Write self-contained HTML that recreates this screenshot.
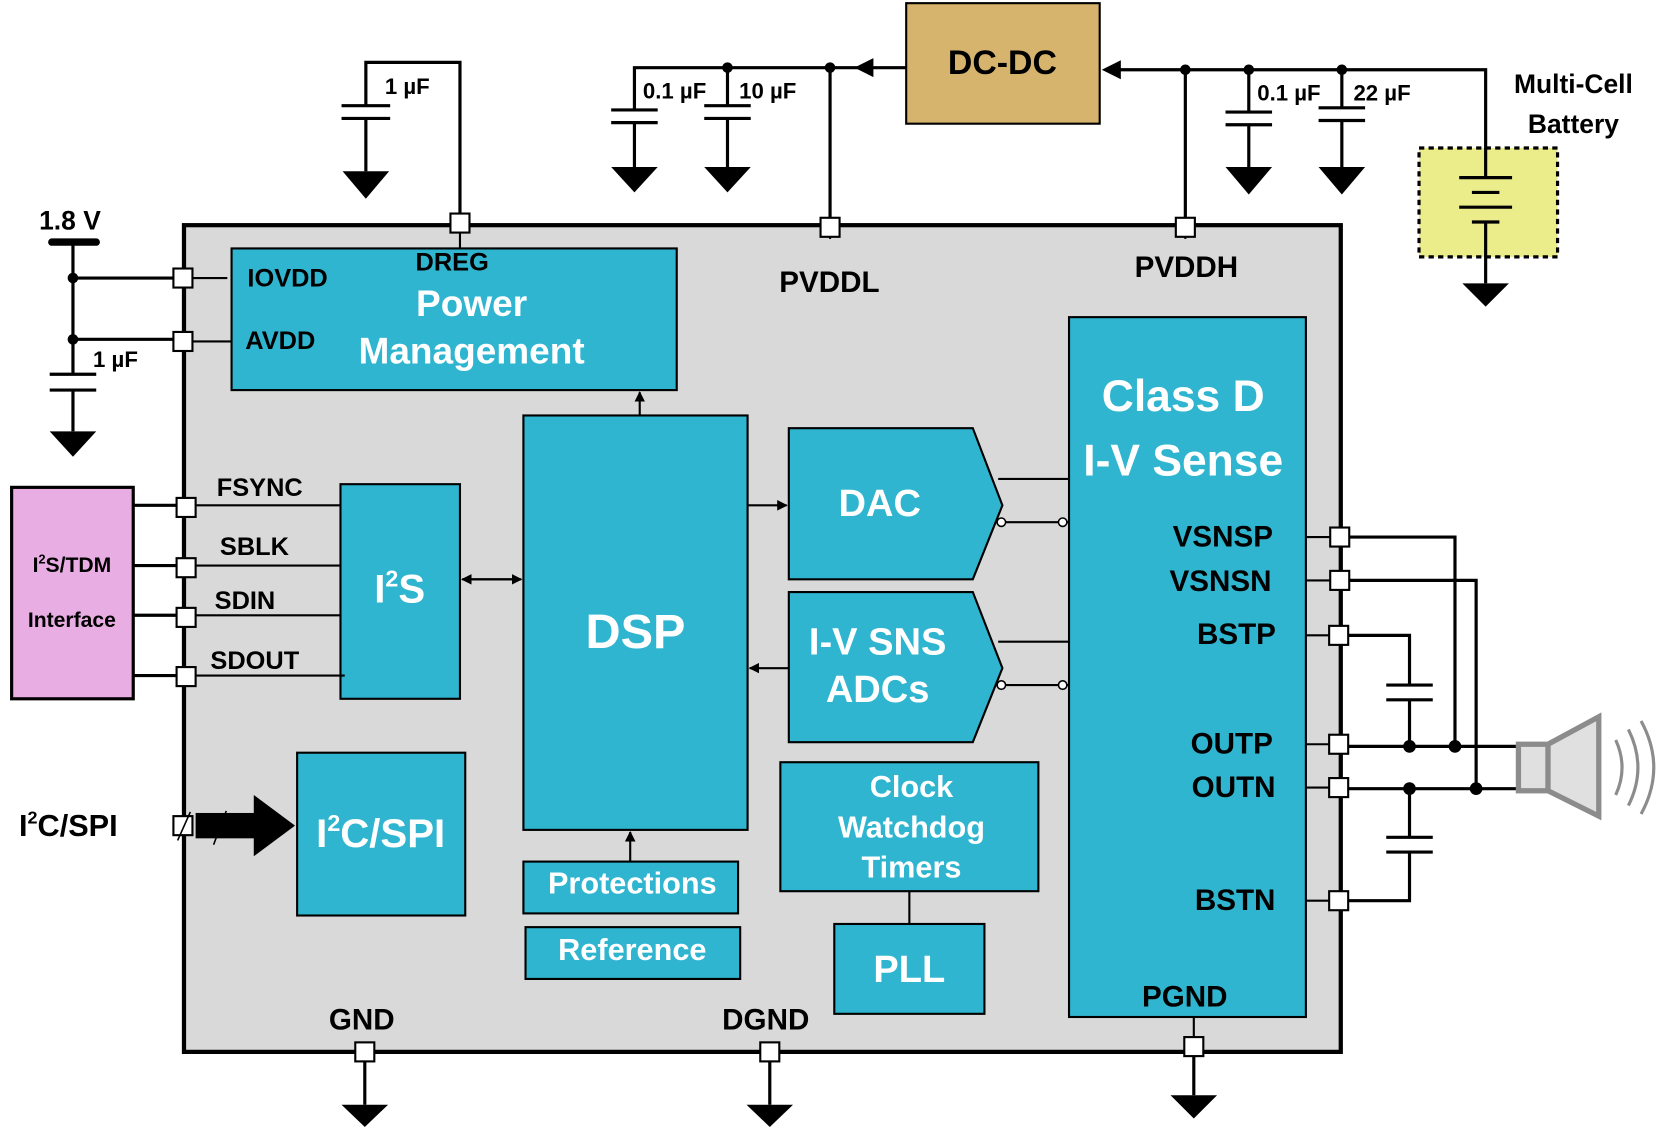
<!DOCTYPE html>
<html><head><meta charset="utf-8"><style>
html,body{margin:0;padding:0;background:#fff;}
svg{display:block;}
text{font-family:"Liberation Sans",Arial,sans-serif;font-weight:bold;}
</style></head><body>
<svg width="1658" height="1128" viewBox="0 0 1568 1067" preserveAspectRatio="none" xmlns="http://www.w3.org/2000/svg">
<defs>
<marker id="ar" markerWidth="10" markerHeight="10" refX="9" refY="5" orient="auto" markerUnits="userSpaceOnUse"><path d="M0,0 L10,5 L0,10 z" fill="#000"/></marker>
</defs>
<rect x="174" y="213" width="1094" height="782" fill="#d9d9d9" stroke="#000" stroke-width="4"/>
<g fill="#2fb5cf" stroke="#000" stroke-width="2">
<rect x="219" y="235" width="421" height="134"/>
<rect x="495" y="393" width="212" height="392"/>
<polygon points="746,405 920,405 948,478 920,548 746,548"/>
<polygon points="746,560 920,560 948,632 920,702 746,702"/>
<rect x="1011" y="300" width="224" height="662"/>
<rect x="322" y="458" width="113" height="203"/>
<rect x="281" y="712" width="159" height="154"/>
<rect x="495" y="815" width="203" height="49"/>
<rect x="497" y="877" width="203" height="49"/>
<rect x="738" y="721" width="244" height="122"/>
<rect x="789" y="874" width="142" height="85"/>
</g>
<rect x="857" y="3" width="183" height="114" fill="#d6b46e" stroke="#000" stroke-width="2"/>
<rect x="11" y="461" width="115" height="200" fill="#e8aee3" stroke="#000" stroke-width="3"/>
<rect x="1342" y="140" width="131" height="103" fill="#eaed8a" stroke="#000" stroke-width="3" stroke-dasharray="5,4"/>

<g stroke="#000" stroke-width="3" fill="none">
<polyline points="435,211 435,59 346,59 346,100"/>
<line x1="346" y1="112" x2="346" y2="162"/>
<line x1="323" y1="100" x2="369" y2="100"/><line x1="323" y1="112" x2="369" y2="112"/>
<polyline points="785,215 785,64 600,64 600,104"/>
<line x1="600" y1="116" x2="600" y2="158"/>
<line x1="578" y1="104" x2="622" y2="104"/><line x1="578" y1="116" x2="622" y2="116"/>
<line x1="688" y1="64" x2="688" y2="100"/><line x1="688" y1="112" x2="688" y2="158"/>
<line x1="666" y1="100" x2="710" y2="100"/><line x1="666" y1="112" x2="710" y2="112"/>
<line x1="785" y1="64" x2="857" y2="64"/>
<polyline points="1121,215 1121,66 1055,66"/>
<polyline points="1121,66 1405,66 1405,140"/>
<line x1="1181" y1="66" x2="1181" y2="106"/><line x1="1181" y1="118" x2="1181" y2="158"/>
<line x1="1159" y1="106" x2="1203" y2="106"/><line x1="1159" y1="118" x2="1203" y2="118"/>
<line x1="1269" y1="66" x2="1269" y2="102"/><line x1="1269" y1="114" x2="1269" y2="158"/>
<line x1="1247" y1="102" x2="1291" y2="102"/><line x1="1247" y1="114" x2="1291" y2="114"/>
<line x1="1405" y1="140" x2="1405" y2="168"/>
<line x1="1380" y1="168" x2="1430" y2="168"/>
<line x1="1392" y1="182" x2="1418" y2="182"/>
<line x1="1380" y1="196" x2="1430" y2="196"/>
<line x1="1392" y1="210" x2="1418" y2="210"/>
<line x1="1405" y1="210" x2="1405" y2="268"/>
<line x1="69" y1="230" x2="69" y2="354"/>
<line x1="69" y1="263" x2="173" y2="263"/><line x1="69" y1="321" x2="173" y2="321"/>
<line x1="47" y1="354" x2="91" y2="354"/><line x1="47" y1="369" x2="91" y2="369"/>
<line x1="69" y1="369" x2="69" y2="408"/>
<line x1="126" y1="478" x2="176" y2="478"/><line x1="126" y1="535" x2="176" y2="535"/>
<line x1="126" y1="582" x2="176" y2="582"/><line x1="126" y1="639" x2="176" y2="639"/>
<line x1="345" y1="995" x2="345" y2="1045"/><line x1="728" y1="995" x2="728" y2="1045"/>
<line x1="1129" y1="990" x2="1129" y2="1036"/>
<polyline points="1267,508 1376,508 1376,706"/>
<polyline points="1267,549 1396,549 1396,746"/>
<polyline points="1266,601 1333,601 1333,648"/>
<line x1="1311" y1="648" x2="1355" y2="648"/><line x1="1311" y1="662" x2="1355" y2="662"/>
<line x1="1333" y1="662" x2="1333" y2="706"/>
<line x1="1266" y1="706" x2="1437" y2="706"/>
<line x1="1266" y1="746" x2="1437" y2="746"/>
<line x1="1333" y1="746" x2="1333" y2="792"/>
<line x1="1311" y1="792" x2="1355" y2="792"/><line x1="1311" y1="806" x2="1355" y2="806"/>
<polyline points="1333,806 1333,852 1266,852"/>
<line x1="49" y1="229" x2="91" y2="229" stroke-width="7" stroke-linecap="round"/>
</g>
<g stroke="#000" stroke-width="2" fill="none">
<line x1="176" y1="478" x2="322" y2="478"/><line x1="176" y1="535" x2="322" y2="535"/>
<line x1="176" y1="582" x2="322" y2="582"/><line x1="176" y1="639" x2="326" y2="639"/>
<line x1="173" y1="263" x2="215" y2="263"/><line x1="173" y1="323" x2="219" y2="323"/>
<line x1="435" y1="211" x2="435" y2="235"/>
<line x1="785" y1="215" x2="785" y2="226"/><line x1="1121" y1="215" x2="1121" y2="226"/>
<line x1="1235" y1="508" x2="1267" y2="508"/><line x1="1235" y1="549" x2="1267" y2="549"/>
<line x1="1235" y1="601" x2="1266" y2="601"/><line x1="1235" y1="704" x2="1266" y2="704"/>
<line x1="1235" y1="745" x2="1266" y2="745"/><line x1="1235" y1="852" x2="1266" y2="852"/>
<line x1="1129" y1="962" x2="1129" y2="990"/>
<line x1="860" y1="843" x2="860" y2="874"/>
<line x1="944" y1="453" x2="1011" y2="453"/><line x1="949" y1="494" x2="1011" y2="494"/>
<line x1="944" y1="607" x2="1011" y2="607"/><line x1="949" y1="648" x2="1011" y2="648"/>
<line x1="707" y1="478" x2="744" y2="478" marker-end="url(#ar)"/>
<line x1="746" y1="632" x2="709" y2="632" marker-end="url(#ar)"/>
<line x1="605" y1="393" x2="605" y2="371" marker-end="url(#ar)"/>
<line x1="596" y1="815" x2="596" y2="787" marker-end="url(#ar)"/>
<line x1="445" y1="548" x2="493" y2="548" marker-end="url(#ar)"/>
<line x1="485" y1="548" x2="437" y2="548" marker-end="url(#ar)"/>
</g>
<g fill="#fff" stroke="#000" stroke-width="1.5">
<circle cx="947" cy="494" r="4"/><circle cx="1005" cy="494" r="4"/>
<circle cx="947" cy="648" r="4"/><circle cx="1005" cy="648" r="4"/>
</g>
<polygon points="808,64 826,55 826,73" fill="#000"/>
<polygon points="1042,66 1060,57 1060,75" fill="#000"/>
<rect x="185" y="769" width="70" height="24" fill="#000"/>
<polygon points="240,752 279,781 240,810" fill="#000"/>
<g fill="#000">
<circle cx="688" cy="64" r="5"/><circle cx="785" cy="64" r="5"/>
<circle cx="1121" cy="66" r="5"/><circle cx="1181" cy="66" r="5"/><circle cx="1269" cy="66" r="5"/>
<circle cx="69" cy="263" r="5"/><circle cx="69" cy="321" r="5"/>
<circle cx="1333" cy="706" r="6"/><circle cx="1376" cy="706" r="6"/>
<circle cx="1333" cy="746" r="6"/><circle cx="1396" cy="746" r="6"/>
<polygon points="324,162 368,162 346,188"/>
<polygon points="578,158 622,158 600,182"/>
<polygon points="666,158 710,158 688,182"/>
<polygon points="1159,158 1203,158 1181,184"/>
<polygon points="1247,158 1291,158 1269,184"/>
<polygon points="1383,268 1427,268 1405,290"/>
<polygon points="47,408 91,408 69,432"/>
<polygon points="323,1045 367,1045 345,1066"/>
<polygon points="706,1045 750,1045 728,1066"/>
<polygon points="1107,1036 1151,1036 1129,1058"/>
</g>
<g fill="#fff" stroke="#000" stroke-width="2">
<rect x="426" y="202" width="18" height="18"/><rect x="776" y="206" width="18" height="18"/><rect x="1112" y="206" width="18" height="18"/>
<rect x="164" y="254" width="18" height="18"/><rect x="164" y="314" width="18" height="18"/>
<rect x="167" y="471" width="18" height="18"/><rect x="167" y="528" width="18" height="18"/>
<rect x="167" y="575" width="18" height="18"/><rect x="167" y="631" width="18" height="18"/>
<rect x="164" y="772" width="18" height="18"/>
<rect x="336" y="986" width="18" height="18"/><rect x="719" y="986" width="18" height="18"/><rect x="1120" y="981" width="18" height="18"/>
<rect x="1258" y="499" width="18" height="18"/><rect x="1258" y="540" width="18" height="18"/>
<rect x="1257" y="592" width="18" height="18"/><rect x="1257" y="695" width="18" height="18"/>
<rect x="1257" y="736" width="18" height="18"/><rect x="1257" y="843" width="18" height="18"/>
</g>
<g stroke="#000" stroke-width="1.5"><line x1="168" y1="795" x2="180" y2="768"/><line x1="202" y1="799" x2="214" y2="767"/></g>
<g stroke="#8c8c8c" stroke-width="5" fill="#e0e0e0">
<rect x="1436" y="704" width="28" height="44"/>
<polygon points="1464,704 1512,678 1512,772 1464,748"/>
</g>
<g stroke="#8c8c8c" stroke-width="3" fill="none">
<path d="M1528,700 Q1540,726 1528,752"/>
<path d="M1540,690 Q1558,726 1540,762"/>
<path d="M1552,682 Q1576,726 1552,770"/>
</g>
<g font-size="21" fill="#000">
<text x="364" y="89">1 µF</text>
<text x="608" y="93">0.1 µF</text><text x="699" y="93">10 µF</text>
<text x="1189" y="95">0.1 µF</text><text x="1280" y="95">22 µF</text>
<text x="88" y="347">1 µF</text>
</g>
<text x="37" y="217" font-size="25">1.8 V</text>
<text x="948" y="70" font-size="32" text-anchor="middle">DC-DC</text>
<text x="1488" y="88" font-size="25" text-anchor="middle">Multi-Cell</text>
<text x="1488" y="126" font-size="25" text-anchor="middle">Battery</text>
<g font-size="24" fill="#000">
<text x="234" y="271">IOVDD</text><text x="232" y="330">AVDD</text>
<text x="393" y="256">DREG</text>
<text x="737" y="276" font-size="28">PVDDL</text><text x="1073" y="262" font-size="28">PVDDH</text>
<text x="205" y="469">FSYNC</text><text x="208" y="525">SBLK</text>
<text x="203" y="576">SDIN</text><text x="199" y="633">SDOUT</text>
<text x="1109" y="517" font-size="28">VSNSP</text><text x="1106" y="559" font-size="28">VSNSN</text>
<text x="1132" y="609" font-size="28">BSTP</text><text x="1126" y="713" font-size="28">OUTP</text>
<text x="1127" y="754" font-size="28">OUTN</text><text x="1130" y="861" font-size="28">BSTN</text>
<text x="1080" y="952" font-size="28">PGND</text>
<text x="311" y="974" font-size="28">GND</text><text x="683" y="974" font-size="28">DGND</text>
</g>
<text x="68" y="541" font-size="20" text-anchor="middle">I<tspan font-size="12" dy="-8">2</tspan><tspan dy="8">S/TDM</tspan></text>
<text x="68" y="593" font-size="20" text-anchor="middle">Interface</text>
<text x="18" y="791" font-size="29">I<tspan font-size="17" dy="-12">2</tspan><tspan dy="12">C/SPI</tspan></text>
<g fill="#fff">
<text x="446" y="299" font-size="35" text-anchor="middle">Power</text>
<text x="446" y="344" font-size="35" text-anchor="middle">Management</text>
<text x="601" y="613" font-size="46" text-anchor="middle">DSP</text>
<text x="832" y="488" font-size="36" text-anchor="middle">DAC</text>
<text x="830" y="619" font-size="36" text-anchor="middle">I-V SNS</text>
<text x="830" y="664" font-size="36" text-anchor="middle">ADCs</text>
<text x="1119" y="389" font-size="42" text-anchor="middle">Class D</text>
<text x="1119" y="450" font-size="42" text-anchor="middle">I-V Sense</text>
<text x="378" y="570" font-size="38" text-anchor="middle">I<tspan font-size="22" dy="-15">2</tspan><tspan dy="15">S</tspan></text>
<text x="360" y="801" font-size="38" text-anchor="middle">I<tspan font-size="22" dy="-15">2</tspan><tspan dy="15">C/SPI</tspan></text>
<text x="598" y="845" font-size="29" text-anchor="middle">Protections</text>
<text x="598" y="908" font-size="29" text-anchor="middle">Reference</text>
<text x="862" y="754" font-size="29" text-anchor="middle">Clock</text>
<text x="862" y="792" font-size="29" text-anchor="middle">Watchdog</text>
<text x="862" y="830" font-size="29" text-anchor="middle">Timers</text>
<text x="860" y="929" font-size="36" text-anchor="middle">PLL</text>
</g>
</svg>
</body></html>
